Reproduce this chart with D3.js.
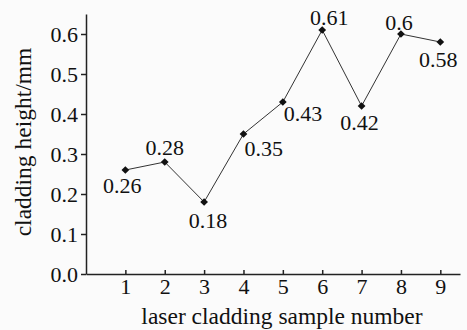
<!DOCTYPE html>
<html>
<head>
<meta charset="utf-8">
<script src="https://cdn.jsdelivr.net/npm/d3@7"></script>
<style>
  html, body { margin: 0; padding: 0; background: #fbfbfb; }
  svg { display: block; }
</style>
</head>
<body>
<div id="chart"></div>
<script>
const samples = [1, 2, 3, 4, 5, 6, 7, 8, 9];
const heights = [0.26, 0.28, 0.18, 0.35, 0.43, 0.61, 0.42, 0.6, 0.58];
const heightLabels = ["0.26", "0.28", "0.18", "0.35", "0.43", "0.61", "0.42", "0.6", "0.58"];
const yTicks = [0, 0.1, 0.2, 0.3, 0.4, 0.5, 0.6];

// where each value label sits relative to its point
const labelPlace = [
  [-3, 23, "middle"], [0, -7, "middle"], [4, 26, "middle"],
  [1, 22, "start"], [1, 19, "start"], [7, -5, "middle"],
  [-2, 24, "middle"], [-2, -4, "middle"], [-2, 25, "middle"]
];

const width = 467, height = 330;
const margin = { top: 14, right: 7, bottom: 56, left: 86 };
const font = "'Liberation Serif', 'Times New Roman', serif";
const fs = 22;
const titleFs = 23.5;

const svg = d3.select("#chart").append("svg")
  .attr("width", width)
  .attr("height", height)
  .style("font-family", font);

const x = d3.scaleLinear()
  .domain([0, 9.5])
  .range([margin.left, width - margin.right]);

const y = d3.scaleLinear()
  .domain([0, 0.65])
  .range([274, 274 - 0.65 * 400]);

// y axis
const yAxis = svg.append("g")
  .attr("transform", `translate(${margin.left},0)`)
  .call(d3.axisLeft(y).tickValues(yTicks).tickFormat(d3.format(".1f")).tickSize(5).tickSizeOuter(0));
yAxis.select(".domain").attr("stroke", "#222").attr("stroke-width", 1.5);
yAxis.selectAll(".tick line").attr("stroke", "#222").attr("stroke-width", 1.5);
yAxis.selectAll(".tick text")
  .attr("font-size", fs).attr("font-family", font).attr("fill", "#111")
  .attr("x", -8).attr("dy", "0.35em");

// x axis
const xAxis = svg.append("g")
  .attr("transform", `translate(0,${y(0)})`)
  .call(d3.axisBottom(x).tickValues(samples).tickSize(0).tickSizeOuter(0).tickPadding(6));
xAxis.select(".domain").attr("stroke", "#222").attr("stroke-width", 1.5);
xAxis.selectAll(".tick").append("line")
  .attr("y1", 0).attr("y2", -4)
  .attr("stroke", "#222").attr("stroke-width", 1.5);
xAxis.selectAll(".tick text")
  .attr("font-size", fs).attr("font-family", font).attr("fill", "#111")
  .attr("y", 4).attr("dy", "0.71em");

// axis titles
svg.append("text")
  .attr("x", 282)
  .attr("y", 324)
  .attr("text-anchor", "middle")
  .attr("font-size", titleFs)
  .attr("fill", "#111")
  .text("laser cladding sample number");

svg.append("text")
  .attr("transform", `translate(31,142) rotate(-90)`)
  .attr("text-anchor", "middle")
  .attr("font-size", titleFs)
  .attr("fill", "#111")
  .text("cladding height/mm");

// line
const pts = samples.map((s, i) => ({ s: s, v: heights[i], label: heightLabels[i], place: labelPlace[i] }));

svg.append("path")
  .datum(pts)
  .attr("fill", "none")
  .attr("stroke", "#333")
  .attr("stroke-width", 1)
  .attr("d", d3.line().x(d => x(d.s)).y(d => y(d.v)));

svg.selectAll("path.marker")
  .data(pts)
  .enter().append("path")
  .attr("class", "marker")
  .attr("transform", d => `translate(${x(d.s)},${y(d.v)}) rotate(45)`)
  .attr("d", d3.symbol().type(d3.symbolSquare).size(30))
  .attr("fill", "#111");

svg.selectAll("text.val")
  .data(pts)
  .enter().append("text")
  .attr("class", "val")
  .attr("x", d => x(d.s) + d.place[0])
  .attr("y", d => y(d.v) + d.place[1])
  .attr("text-anchor", d => d.place[2])
  .attr("font-size", fs)
  .attr("fill", "#111")
  .text(d => d.label);
</script>
</body>
</html>
